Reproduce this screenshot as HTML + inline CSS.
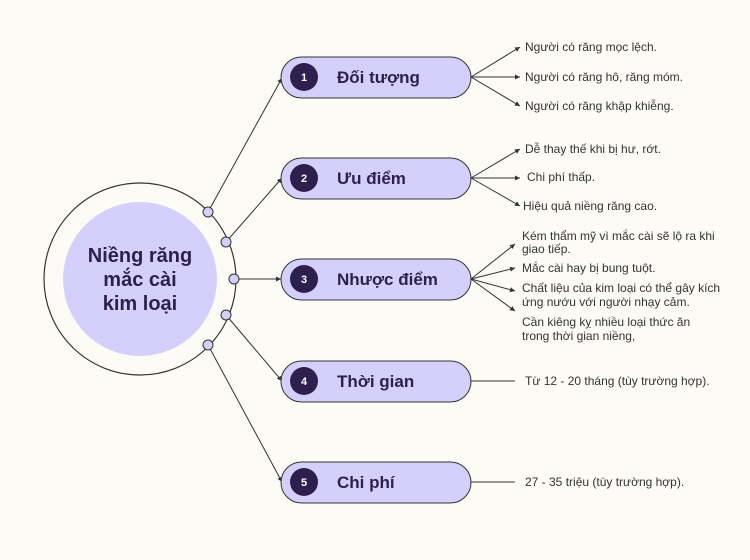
<!DOCTYPE html>
<html><head><meta charset="utf-8"><style>
body{margin:0;background:#fdfbf5}
svg{display:block}
.t{font-family:"Liberation Sans","DejaVu Sans",sans-serif;font-size:12px;fill:#333}
.h{font-family:"Liberation Sans","DejaVu Sans",sans-serif;font-weight:bold;font-size:17px;fill:#2d1f4e}
.n{font-family:"Liberation Sans",sans-serif;font-weight:bold;font-size:11px;fill:#fff}
</style></head><body>
<svg width="750" height="560" viewBox="0 0 750 560" xmlns="http://www.w3.org/2000/svg">
<defs><marker id="a" markerWidth="6" markerHeight="6" refX="5" refY="3" orient="auto"><path d="M0,0.5 L5,3 L0,5.5z" fill="#333"/></marker></defs>
<rect width="750" height="560" fill="#fdfbf5"/>
<circle cx="140" cy="279" r="96" fill="none" stroke="#333" stroke-width="1.2"/>
<circle cx="140" cy="279" r="77" fill="#d4d0fb"/>
<text class="h" text-anchor="middle" style="font-size:20px"><tspan x="140" y="262">Niềng răng</tspan><tspan x="140" y="286">mắc cài</tspan><tspan x="140" y="310">kim loại</tspan></text>
<g stroke="#333" stroke-width="1" fill="none" marker-end="url(#a)">
<line x1="208" y1="212" x2="282" y2="78"/>
<line x1="226" y1="242" x2="282" y2="178"/>
<line x1="234" y1="279" x2="281" y2="279"/>
<line x1="226" y1="315" x2="282" y2="381"/>
<line x1="208" y1="345" x2="282" y2="482"/>
<line x1="471" y1="77" x2="520" y2="47"/>
<line x1="471" y1="77" x2="520" y2="77"/>
<line x1="471" y1="77" x2="520" y2="106"/>
<line x1="471" y1="178" x2="520" y2="149"/>
<line x1="471" y1="178" x2="520" y2="178"/>
<line x1="471" y1="178" x2="520" y2="206"/>
<line x1="471" y1="279" x2="515" y2="244"/>
<line x1="471" y1="279" x2="515" y2="268"/>
<line x1="471" y1="279" x2="515" y2="291"/>
<line x1="471" y1="279" x2="515" y2="311"/>
</g>
<line x1="471" y1="381" x2="515" y2="381" stroke="#333"/>
<line x1="471" y1="482" x2="515" y2="482" stroke="#333"/>
<g fill="#d4d0fb" stroke="#333" stroke-width="1">
<circle cx="208" cy="212" r="5"/><circle cx="226" cy="242" r="5"/><circle cx="234" cy="279" r="5"/><circle cx="226" cy="315" r="5"/><circle cx="208" cy="345" r="5"/>
<rect x="281" y="57" width="190" height="41" rx="20.5"/>
<rect x="281" y="158" width="190" height="41" rx="20.5"/>
<rect x="281" y="259" width="190" height="41" rx="20.5"/>
<rect x="281" y="361" width="190" height="41" rx="20.5"/>
<rect x="281" y="462" width="190" height="41" rx="20.5"/>
</g>
<g fill="#2d1f4e">
<circle cx="304" cy="77" r="14"/><circle cx="304" cy="178" r="14"/><circle cx="304" cy="279" r="14"/><circle cx="304" cy="381" r="14"/><circle cx="304" cy="482" r="14"/>
</g>
<text class="n" x="304" y="81" text-anchor="middle">1</text>
<text class="n" x="304" y="182" text-anchor="middle">2</text>
<text class="n" x="304" y="283" text-anchor="middle">3</text>
<text class="n" x="304" y="385" text-anchor="middle">4</text>
<text class="n" x="304" y="486" text-anchor="middle">5</text>
<text class="h" x="337" y="83">Đối tượng</text>
<text class="h" x="337" y="184">Ưu điểm</text>
<text class="h" x="337" y="285">Nhược điểm</text>
<text class="h" x="337" y="387">Thời gian</text>
<text class="h" x="337" y="488">Chi phí</text>
<text class="t" x="525" y="51">Người có răng mọc lệch.</text>
<text class="t" x="525" y="81">Người có răng hô, răng móm.</text>
<text class="t" x="525" y="110">Người có răng khập khiễng.</text>
<text class="t" x="525" y="153">Dễ thay thế khi bị hư, rớt.</text>
<text class="t" x="527" y="181">Chi phí thấp.</text>
<text class="t" x="523" y="210">Hiệu quả niềng răng cao.</text>
<text class="t" x="522" y="240">Kém thẩm mỹ vì mắc cài sẽ lộ ra khi</text>
<text class="t" x="522" y="253">giao tiếp.</text>
<text class="t" x="522" y="272">Mắc cài hay bị bung tuột.</text>
<text class="t" x="522" y="292">Chất liệu của kim loại có thể gây kích</text>
<text class="t" x="522" y="306">ứng nướu với người nhạy cảm.</text>
<text class="t" x="522" y="326">Cần kiêng kỵ nhiều loại thức ăn</text>
<text class="t" x="522" y="340">trong thời gian niềng,</text>
<text class="t" x="525" y="385">Từ 12 - 20 tháng (tùy trường hợp).</text>
<text class="t" x="525" y="486">27 - 35 triệu (tùy trường hợp).</text>
</svg>
</body></html>
